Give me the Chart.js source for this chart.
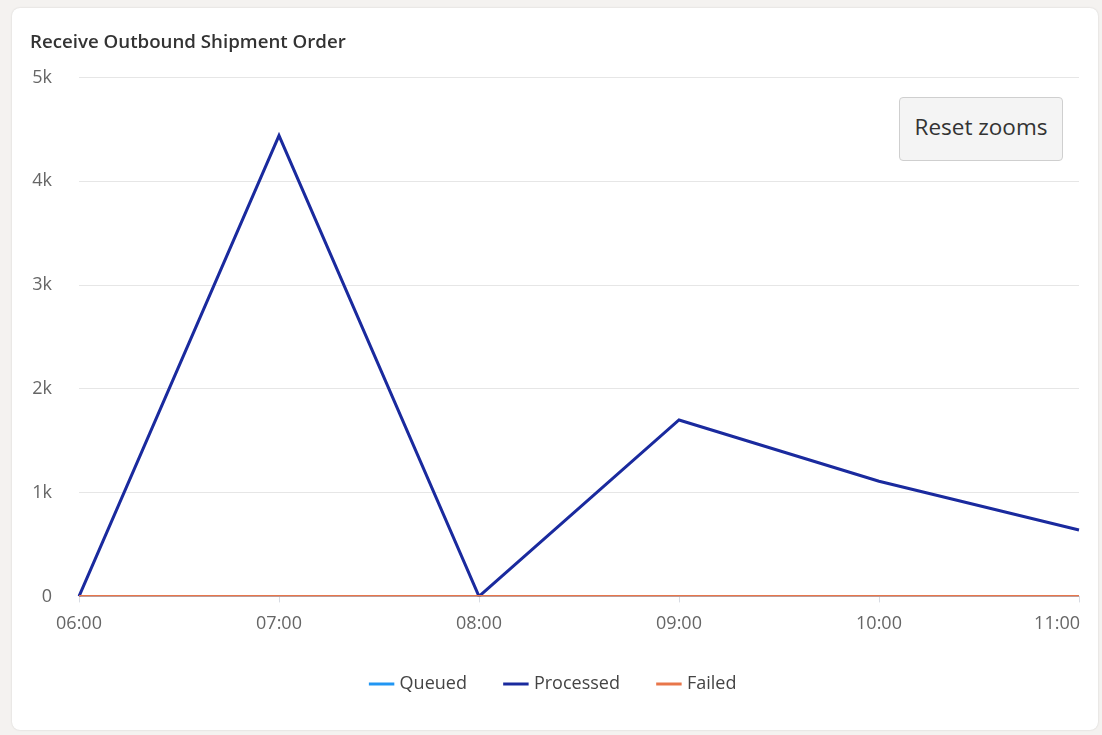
<!DOCTYPE html>
<html>
<head>
<meta charset="utf-8">
<script src="https://cdn.jsdelivr.net/npm/chart.js@4.4.0/dist/chart.umd.min.js"></script>
<style>
  html, body { margin: 0; padding: 0; background: #f4f2f0; }
  body { width: 1102px; height: 735px; position: relative; overflow: hidden; font-family: "Open Sans", "Noto Sans", sans-serif; }
  .card { position: absolute; left: 12px; top: 8px; width: 1086px; height: 722px; background: #fff; border-radius: 8px; box-shadow: 0 0 2px rgba(0,0,0,0.15); }
  .wrap { position: absolute; left: 0; top: 0; width: 1086px; height: 722px; }
  .reset { position: absolute; left: 899px; top: 97px; width: 164px; height: 64px; padding: 0 0 6px 0; background: #f4f4f4; border: 1px solid #cfcfcf; border-radius: 4px; font-family: "Open Sans", sans-serif; font-size: 22.5px; color: #333; box-sizing: border-box; }
</style>
</head>
<body>
<div class="card"><div class="wrap"><canvas id="chart"></canvas></div></div>
<button class="reset">Reset zooms</button>
<script>
const hours = ['06:00', '07:00', '08:00', '09:00', '10:00', '11:00'];
const queued = [0, 0, 0, 0, 0, 0];
const processed = [0, 4440, 0, 1700, 1110, 640];
const failed = [0, 0, 0, 0, 0, 0];
const yTicks = [0, 1000, 2000, 3000, 4000, 5000];

const tickFont = { family: 'Open Sans', size: 18 };
const lastIdx = hours.length - 1;
const xTickLen = 6, xTickPad = 11;

// the last hour label sits flush with the right edge instead of centred on its tick
const lastLabel = {
  id: 'lastLabel',
  afterLayout(chart) {
    // pull the legend a little closer to the axis
    chart.legend.top -= 11;
    chart.legend.bottom -= 11;
  },
  afterDraw(chart) {
    const x = chart.scales.x;
    const c = chart.ctx;
    c.save();
    c.font = tickFont.size + 'px ' + tickFont.family;
    c.fillStyle = '#666';
    c.textAlign = 'right';
    c.textBaseline = 'middle';
    c.fillText(hours[lastIdx], x.getPixelForValue(lastIdx) + 1, x.top + xTickLen + xTickPad + tickFont.size * 0.6);
    c.restore();
  }
};

const ctx = document.getElementById('chart');
new Chart(ctx, {
  type: 'line',
  data: {
    labels: hours,
    datasets: [
      { label: 'Queued', data: queued, borderColor: '#2196f3', backgroundColor: '#2196f3', borderWidth: 1, pointRadius: 0, order: 3 },
      { label: 'Processed', data: processed, borderColor: '#1a2a9e', backgroundColor: '#1a2a9e', borderWidth: 3, pointRadius: 0, order: 2 },
      { label: 'Failed', data: failed, borderColor: '#e8764a', backgroundColor: '#e8764a', borderWidth: 3, pointRadius: 0, order: 1 }
    ]
  },
  plugins: [lastLabel],
  options: {
    responsive: true,
    maintainAspectRatio: false,
    animation: false,
    layout: { padding: { left: 18, right: 19, top: 16, bottom: 16 } },
    plugins: {
      title: {
        display: true, text: 'Receive Outbound Shipment Order', align: 'start',
        color: '#333', font: { family: 'Open Sans', size: 18.7, weight: '600' },
        padding: { top: 7, bottom: 24 }
      },
      legend: {
        position: 'bottom',
        labels: {
          usePointStyle: true, pointStyle: 'line', boxWidth: 20, padding: 40,
          color: '#444', font: { family: 'Open Sans', size: 18 },
          generateLabels: chart => Chart.defaults.plugins.legend.labels.generateLabels(chart)
            .map(l => Object.assign(l, { lineWidth: 3 })),
          sort: (a, b) => a.datasetIndex - b.datasetIndex
        }
      },
      tooltip: { enabled: false }
    },
    scales: {
      x: {
        grid: { display: true, drawOnChartArea: false, drawTicks: true, tickLength: xTickLen, color: '#d8dce4' },
        border: { display: false },
        ticks: { color: '#666', font: tickFont, padding: xTickPad, maxRotation: 0,
          callback: (v, i) => i === lastIdx ? '' : hours[i] },
        afterFit: axis => { axis.paddingLeft = 0; axis.paddingRight = 0; }
      },
      y: {
        min: 0, max: 5000,
        afterBuildTicks: axis => { axis.ticks = yTicks.map(v => ({ value: v })); },
        grid: { color: '#e6e6e6', drawTicks: false },
        border: { display: false },
        ticks: { color: '#666', font: tickFont, padding: 27,
          callback: v => v === 0 ? '0' : (v / 1000) + 'k' },
        afterFit: axis => { axis.width = 49; }
      }
    }
  }
});
</script>
</body>
</html>
